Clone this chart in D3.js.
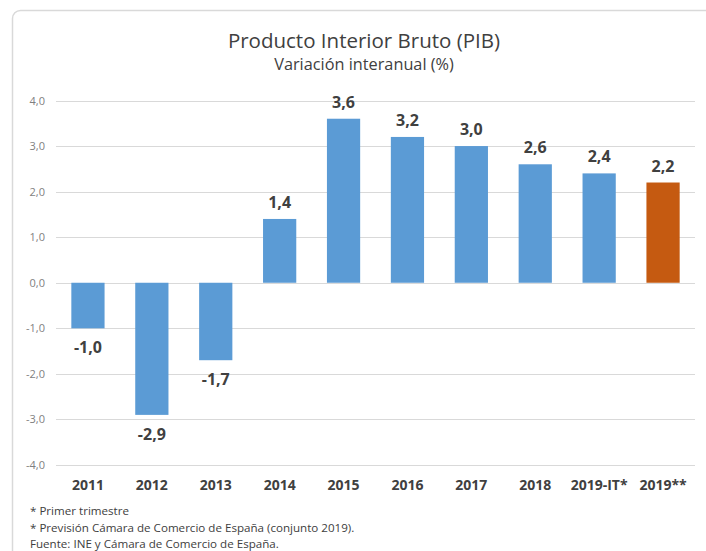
<!DOCTYPE html>
<html>
<head>
<meta charset="utf-8">
<script src="https://cdn.jsdelivr.net/npm/d3@7"></script>
<style>
  body { margin: 0; background: #fff; }
  svg { display: block; }
</style>
</head>
<body>
<div id="chart"></div>
<script>
// data
const years = ["2011", "2012", "2013", "2014", "2015", "2016", "2017", "2018", "2019-IT*", "2019**"];
const pib = [-1.0, -2.9, -1.7, 1.4, 3.6, 3.2, 3.0, 2.6, 2.4, 2.2];
const forecast = [false, false, false, false, false, false, false, false, false, true];
const yTicks = [-4, -3, -2, -1, 0, 1, 2, 3, 4];
const notes = [
    "* Primer trimestre",
    "* Previsión Cámara de Comercio de España (conjunto 2019).",
    "Fuente: INE y Cámara de Comercio de España."
];

const width = 706, height = 551;
const font = "'Open Sans', Lato, sans-serif";

const svg = d3.select("#chart")
    .append("svg")
    .attr("width", width)
    .attr("height", height)
    .style("font-family", font);

// frame
svg.append("rect")
    .attr("x", 12.5)
    .attr("y", 10.5)
    .attr("width", 720)
    .attr("height", 560)
    .attr("rx", 8)
    .attr("fill", "none")
    .attr("stroke", "#d9d9d9")
    .attr("stroke-width", 1.5);

// title
svg.append("text")
    .attr("x", 364)
    .attr("y", 48)
    .attr("text-anchor", "middle")
    .attr("font-size", 20.5)
    .attr("fill", "#404040")
    .text("Producto Interior Bruto (PIB)");

svg.append("text")
    .attr("x", 364)
    .attr("y", 70)
    .attr("text-anchor", "middle")
    .attr("font-size", 16.3)
    .attr("fill", "#404040")
    .text("Variación interanual (%)");

const x = d3.scaleBand()
    .domain(years)
    .range([56, 695])
    .paddingInner(0.48)
    .paddingOuter(0.24);

const y = d3.scaleLinear()
    .domain([-4, 4])
    .range([465, 100.5]);

const fmt = v => d3.format(".1f")(v).replace(".", ",").replace("−", "-");

// gridlines
svg.append("g")
    .selectAll("line")
    .data(yTicks)
    .join("line")
    .attr("x1", 56)
    .attr("x2", 695)
    .attr("y1", d => Math.round(y(d)) + 0.5)
    .attr("y2", d => Math.round(y(d)) + 0.5)
    .attr("stroke", "#d9d9d9")
    .attr("stroke-width", 1);

// y axis labels
const yAxis = svg.append("g")
    .attr("transform", "translate(56,0)")
    .call(d3.axisLeft(y).tickValues(yTicks).tickSize(0).tickPadding(11).tickFormat(fmt));
yAxis.select(".domain").remove();
yAxis.selectAll("text")
    .attr("font-family", font)
    .attr("font-size", 11)
    .attr("fill", "#7f7f7f");

// bars
svg.append("g")
    .selectAll("rect")
    .data(pib)
    .join("rect")
    .attr("x", (d, i) => x(years[i]))
    .attr("width", x.bandwidth())
    .attr("y", d => y(Math.max(0, d)))
    .attr("height", d => Math.abs(y(d) - y(0)))
    .attr("fill", (d, i) => forecast[i] ? "#c55a11" : "#5b9bd5");

// value labels
svg.append("g")
    .selectAll("text")
    .data(pib)
    .join("text")
    .attr("x", (d, i) => x(years[i]) + x.bandwidth() / 2)
    .attr("y", d => d >= 0 ? y(d) - 11 : y(d) + 25)
    .attr("text-anchor", "middle")
    .attr("font-size", 16)
    .attr("font-weight", "bold")
    .attr("fill", "#404040")
    .text(fmt);

// x axis labels
const xAxis = svg.append("g")
    .attr("transform", "translate(0,465)")
    .call(d3.axisBottom(x).tickSize(0).tickPadding(15));
xAxis.select(".domain").remove();
xAxis.selectAll("text")
    .attr("font-family", font)
    .attr("font-size", 14)
    .attr("font-weight", "bold")
    .attr("fill", "#404040");

// footnotes
svg.append("g")
    .selectAll("text")
    .data(notes)
    .join("text")
    .attr("x", 30)
    .attr("y", (d, i) => 515 + i * 16.5)
    .attr("font-size", 11.6)
    .attr("fill", "#404040")
    .text(d => d);
</script>
</body>
</html>
